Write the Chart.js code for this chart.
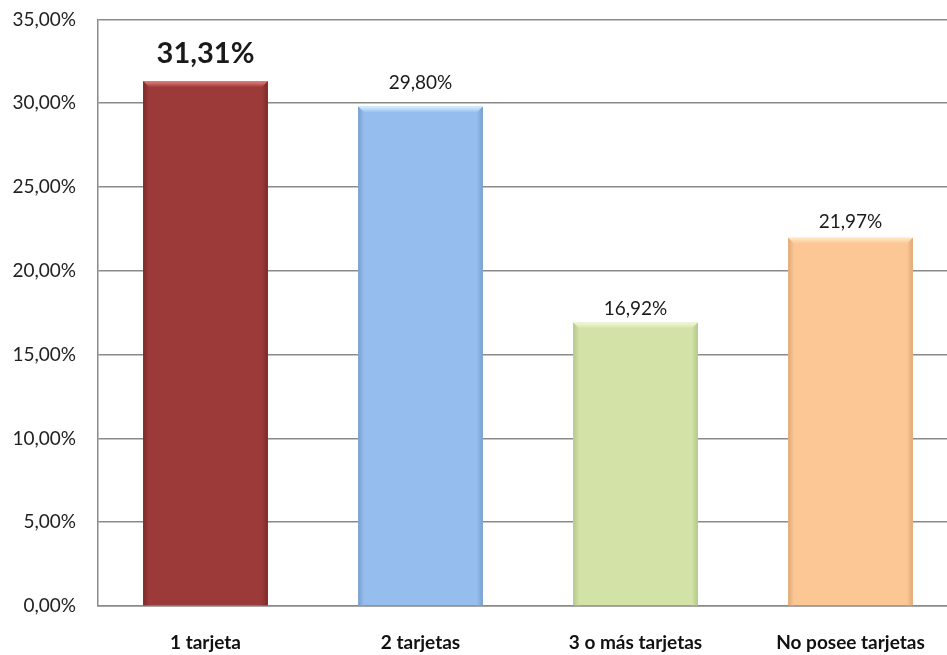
<!DOCTYPE html>
<html>
<head>
<meta charset="utf-8">
<script src="https://cdn.jsdelivr.net/npm/chart.js@4/dist/chart.umd.min.js"></script>
<style>
  html, body { margin:0; padding:0; background:#fff; overflow:hidden; }
  #wrap { width:960px; height:669px; margin-top:-14px; }
</style>
</head>
<body>
<div id="wrap"><canvas id="c" width="960" height="669"></canvas></div>
<script>
const categories = ["1 tarjeta", "2 tarjetas", "3 o más tarjetas", "No posee tarjetas"];
const values = [31.31, 29.80, 16.92, 21.97];
const yTicks = [0, 5, 10, 15, 20, 25, 30, 35];

// fill, top highlight, side shade per bar
const barColors = ["#9b3a38", "#95bdee", "#d3e2a6", "#fcc794"];
const topColors = ["#e9807c", "#d8f0fe", "#f1f8dc", "#fee8c4"];
const sideColors = ["#7b2a28", "#789fd0", "#b4c78a", "#e0a878"];
const labelGap = [18, 18, 7, 10];

const fmt = v => v.toFixed(2).replace(".", ",") + "%";

const bevel = {
  id: "bevel",
  afterDatasetsDraw(chart){
    const ctx = chart.ctx;
    chart.getDatasetMeta(0).data.forEach((bar, i) => {
      const l = bar.x - bar.width/2, r = bar.x + bar.width/2, t = bar.y, b = bar.base;
      const d = 6;
      ctx.save();
      // top bevel
      let g = ctx.createLinearGradient(0, t, 0, t + d);
      g.addColorStop(0, topColors[i]); g.addColorStop(1, barColors[i]);
      ctx.fillStyle = g;
      ctx.beginPath();
      ctx.moveTo(l, t); ctx.lineTo(r, t); ctx.lineTo(r - d, t + d); ctx.lineTo(l + d, t + d); ctx.closePath();
      ctx.fill();
      // left side
      g = ctx.createLinearGradient(l, 0, l + d, 0);
      g.addColorStop(0, sideColors[i]); g.addColorStop(1, barColors[i]);
      ctx.fillStyle = g;
      ctx.beginPath();
      ctx.moveTo(l, t); ctx.lineTo(l + d, t + d); ctx.lineTo(l + d, b); ctx.lineTo(l, b); ctx.closePath();
      ctx.fill();
      // right side
      g = ctx.createLinearGradient(r, 0, r - d, 0);
      g.addColorStop(0, sideColors[i]); g.addColorStop(1, barColors[i]);
      ctx.fillStyle = g;
      ctx.beginPath();
      ctx.moveTo(r, t); ctx.lineTo(r - d, t + d); ctx.lineTo(r - d, b); ctx.lineTo(r, b); ctx.closePath();
      ctx.fill();
      // value label
      ctx.fillStyle = "#1a1a1a";
      ctx.textAlign = "center";
      ctx.textBaseline = "alphabetic";
      ctx.font = i === 0 ? "bold 29px Lato" : "19px Lato";
      ctx.fillText(fmt(values[i]), bar.x, t - labelGap[i]);
      ctx.restore();
    });
  }
};

new Chart(document.getElementById("c").getContext("2d"), {
  type: "bar",
  data: {
    labels: categories,
    datasets: [{ data: values, backgroundColor: barColors, borderWidth: 0,
      categoryPercentage: 1, barPercentage: 0.58 }]
  },
  options: {
    responsive: false,
    animation: false,
    layout: { padding: { top: 6, right: 2, left: 0, bottom: 0 } },
    plugins: { legend: { display: false }, tooltip: { enabled: false } },
    scales: {
      x: {
        grid: { display: false, drawTicks: false },
        border: { color: "#8a8a8a", width: 1.5 },
        ticks: { color: "#111", font: { family: "Lato", size: 19, weight: "bold" }, padding: 25, maxRotation: 0 },
        afterFit: s => { s.height = 49; }
      },
      y: {
        min: 0, max: 35,
        afterBuildTicks: s => { s.ticks = yTicks.map(v => ({ value: v })); },
        grid: { color: "#8a8a8a", lineWidth: 1.5, drawTicks: false },
        border: { color: "#8a8a8a", width: 1.5 },
        ticks: { color: "#222", font: { family: "Lato", size: 19 }, padding: 22, callback: v => fmt(v) },
        afterFit: s => { s.width = 98; }
      }
    }
  },
  plugins: [bevel]
});
</script>
</body>
</html>
